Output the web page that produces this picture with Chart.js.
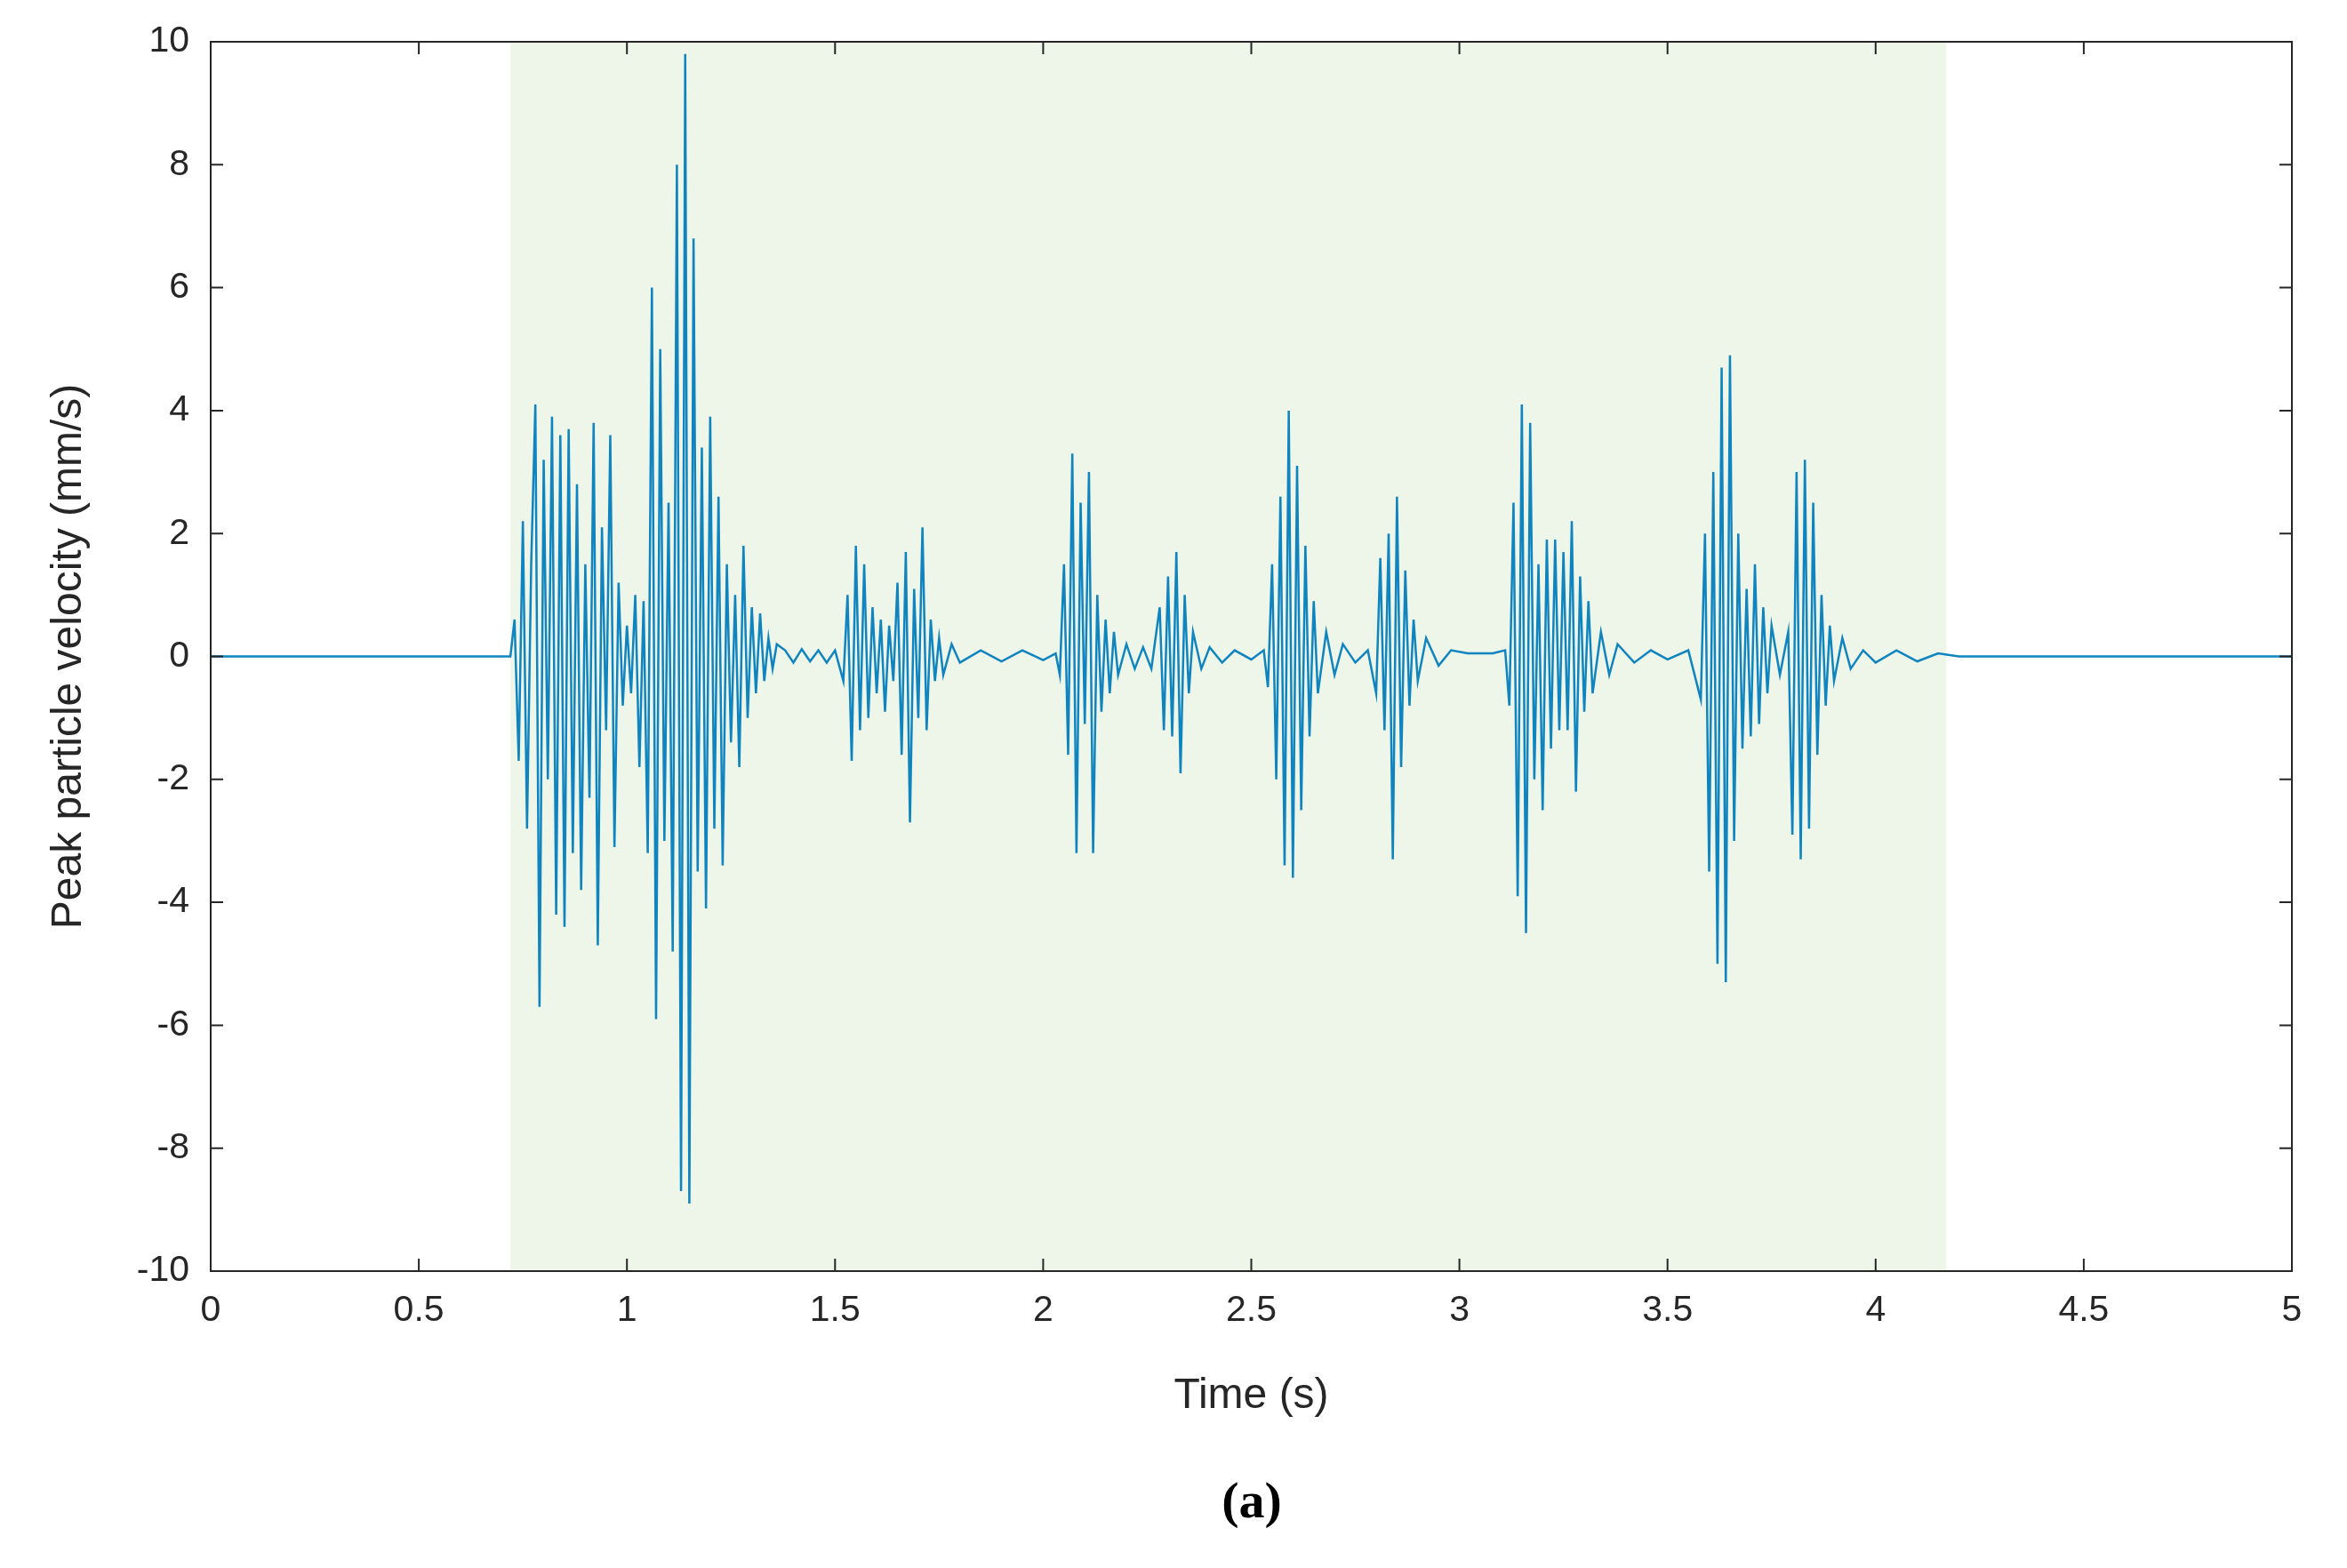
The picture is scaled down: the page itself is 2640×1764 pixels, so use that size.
<!DOCTYPE html>
<html>
<head>
<meta charset="utf-8">
<script src="https://cdn.jsdelivr.net/npm/chart.js@4"></script>
<style>
  html, body { margin: 0; padding: 0; background: #fff; }
</style>
</head>
<body>
<canvas id="ppvChart" width="2640" height="1764"></canvas>
<script>
// time (s) and peak particle velocity (mm/s)
const times = [0, 0.72,
  0.73,0.74,0.75,0.76,0.77,0.78,0.79,0.80,0.81,0.82,0.83,0.84,0.85,0.86,0.87,0.88,0.89,0.90,0.91,0.92,0.93,0.94,0.95,0.96,0.97,0.98,0.99,
  1.00,1.01,1.02,1.03,1.04,1.05,1.06,1.07,1.08,1.09,1.10,1.11,1.12,1.13,1.14,1.15,1.16,1.17,1.18,1.19,1.20,1.21,1.22,1.23,1.24,1.25,1.26,1.27,1.28,1.29,1.30,1.31,1.32,1.33,1.34,1.35,1.36,
  1.38,1.40,1.42,1.44,1.46,1.48,1.50,
  1.52,1.53,1.54,1.55,1.56,1.57,1.58,1.59,1.60,1.61,1.62,1.63,1.64,1.65,1.66,1.67,1.68,1.69,1.70,1.71,1.72,1.73,1.74,1.75,1.76,1.78,1.80,1.85,1.90,1.95,2.00,2.03,
  2.04,2.05,2.06,2.07,2.08,2.09,2.10,2.11,2.12,2.13,2.14,2.15,2.16,2.17,2.18,2.20,2.22,2.24,2.26,2.28,2.29,2.30,2.31,2.32,2.33,2.34,2.35,2.36,2.38,2.40,2.43,2.46,2.50,2.53,
  2.54,2.55,2.56,2.57,2.58,2.59,2.60,2.61,2.62,2.63,2.64,2.65,2.66,2.68,2.70,2.72,2.75,2.78,2.80,2.81,2.82,2.83,2.84,2.85,2.86,2.87,2.88,2.89,2.90,2.92,2.95,2.98,3.02,3.08,3.11,
  3.12,3.13,3.14,3.15,3.16,3.17,3.18,3.19,3.20,3.21,3.22,3.23,3.24,3.25,3.26,3.27,3.28,3.29,3.30,3.31,3.32,3.34,3.36,3.38,3.42,3.46,3.50,3.55,
  3.58,3.59,3.60,3.61,3.62,3.63,3.64,3.65,3.66,3.67,3.68,3.69,3.70,3.71,3.72,3.73,3.74,3.75,3.77,3.79,3.80,3.81,3.82,3.83,3.84,3.85,3.86,3.87,3.88,3.89,3.90,3.92,3.94,3.97,4.00,4.05,4.10,4.15,4.20,5.0];
const ppv = [0, 0,
  0.6,-1.7,2.2,-2.8,1.5,4.1,-5.7,3.2,-2.0,3.9,-4.2,3.6,-4.4,3.7,-3.2,2.8,-3.8,1.5,-2.3,3.8,-4.7,2.1,-1.2,3.6,-3.1,1.2,-0.8,
  0.5,-0.6,1.0,-1.8,0.9,-3.2,6.0,-5.9,5.0,-3.0,2.5,-4.8,8.0,-8.7,9.8,-8.9,6.8,-3.5,3.4,-4.1,3.9,-2.8,2.6,-3.4,1.5,-1.4,1.0,-1.8,1.8,-1.0,0.8,-0.6,0.7,-0.4,0.3,-0.2,0.2,
  0.1,-0.1,0.12,-0.08,0.1,-0.1,0.1,
  -0.4,1.0,-1.7,1.8,-1.2,1.5,-1.0,0.8,-0.6,0.6,-0.9,0.5,-0.4,1.2,-1.6,1.7,-2.7,1.1,-1.0,2.1,-1.2,0.6,-0.4,0.3,-0.3,0.2,-0.1,0.1,-0.08,0.1,-0.06,0.05,
  -0.3,1.5,-1.6,3.3,-3.2,2.5,-1.1,3.0,-3.2,1.0,-0.9,0.6,-0.6,0.4,-0.3,0.2,-0.2,0.15,-0.2,0.8,-1.2,1.3,-1.3,1.7,-1.9,1.0,-0.6,0.4,-0.2,0.15,-0.1,0.1,-0.05,0.1,
  -0.5,1.5,-2.0,2.6,-3.4,4.0,-3.6,3.1,-2.5,1.8,-1.3,0.9,-0.6,0.4,-0.3,0.2,-0.1,0.1,-0.6,1.6,-1.2,2.0,-3.3,2.6,-1.8,1.4,-0.8,0.6,-0.4,0.3,-0.15,0.1,0.05,0.05,0.1,
  -0.8,2.5,-3.9,4.1,-4.5,3.8,-2.0,1.5,-2.5,1.9,-1.5,1.9,-1.2,1.7,-1.2,2.2,-2.2,1.3,-0.9,0.9,-0.6,0.4,-0.3,0.2,-0.1,0.1,-0.05,0.1,
  -0.7,2.0,-3.5,3.0,-5.0,4.7,-5.3,4.9,-3.0,2.0,-1.5,1.1,-1.3,1.5,-1.1,0.8,-0.6,0.5,-0.3,0.4,-2.9,3.0,-3.3,3.2,-2.8,2.5,-1.6,1.0,-0.8,0.5,-0.4,0.3,-0.2,0.1,-0.1,0.1,-0.08,0.05,0,0];

const shadeStart = 0.72;
const shadeEnd = 4.17;
const xTicks = [0, 0.5, 1, 1.5, 2, 2.5, 3, 3.5, 4, 4.5, 5];
const yTicks = [-10, -8, -6, -4, -2, 0, 2, 4, 6, 8, 10];

const axisColor = '#262626';
const fontFamily = '"Liberation Sans", Arial, sans-serif';

// shaded band + box + inward ticks (matlab look)
const framePlugin = {
    id: 'frame',
    beforeDatasetsDraw(chart) {
        const { ctx, chartArea: a, scales: { x } } = chart;
        ctx.save();
        ctx.fillStyle = '#eef5e9';
        const x0 = x.getPixelForValue(shadeStart), x1 = x.getPixelForValue(shadeEnd);
        ctx.fillRect(x0, a.top, x1 - x0, a.bottom - a.top);
        ctx.restore();
    },
    afterDatasetsDraw(chart) {
        const { ctx, chartArea: a, scales: { x, y } } = chart;
        ctx.save();
        ctx.strokeStyle = axisColor;
        ctx.lineWidth = 2;
        ctx.strokeRect(a.left, a.top, a.right - a.left, a.bottom - a.top);
        const len = 14;
        ctx.beginPath();
        xTicks.forEach(t => {
            const px = x.getPixelForValue(t);
            ctx.moveTo(px, a.bottom); ctx.lineTo(px, a.bottom - len);
            ctx.moveTo(px, a.top); ctx.lineTo(px, a.top + len);
        });
        yTicks.forEach(t => {
            const py = y.getPixelForValue(t);
            ctx.moveTo(a.left, py); ctx.lineTo(a.left + len, py);
            ctx.moveTo(a.right, py); ctx.lineTo(a.right - len, py);
        });
        ctx.stroke();
        ctx.fillStyle = '#000';
        ctx.font = 'bold 58px "Liberation Serif", serif';
        ctx.textAlign = 'center';
        ctx.textBaseline = 'middle';
        ctx.fillText('(a)', 1408, 1692);
        ctx.restore();
    }
};

new Chart(document.getElementById('ppvChart'), {
    type: 'line',
    data: {
        datasets: [{
            data: times.map((t, i) => ({ x: t, y: ppv[i] })),
            borderColor: '#0f84bf',
            borderWidth: 2.5,
            pointRadius: 0,
            tension: 0
        }]
    },
    options: {
        responsive: false,
        animation: false,
        devicePixelRatio: 1,
        layout: { padding: { top: 47, right: 62, left: 45, bottom: 160 } },
        plugins: { legend: { display: false }, tooltip: { enabled: false } },
        scales: {
            x: {
                type: 'linear', min: 0, max: 5,
                afterBuildTicks: s => { s.ticks = xTicks.map(v => ({ value: v })); },
                afterFit: s => { s.height = 174; },
                grid: { display: false },
                border: { display: false },
                ticks: { color: axisColor, font: { family: fontFamily, size: 41 }, padding: 12, maxRotation: 0, callback: v => String(v) },
                title: { display: true, text: 'Time (s)', color: axisColor, font: { family: fontFamily, size: 48 }, padding: { top: 14 } }
            },
            y: {
                type: 'linear', min: -10, max: 10,
                afterBuildTicks: s => { s.ticks = yTicks.map(v => ({ value: v })); },
                afterFit: s => { s.width = 192; },
                grid: { display: false },
                border: { display: false },
                ticks: { color: axisColor, font: { family: fontFamily, size: 41 }, padding: 16, callback: v => String(v) },
                title: { display: true, text: 'Peak particle velocity (mm/s)', color: axisColor, font: { family: fontFamily, size: 48 }, padding: { bottom: 8 } }
            }
        }
    },
    plugins: [framePlugin]
});
</script>
</body>
</html>
